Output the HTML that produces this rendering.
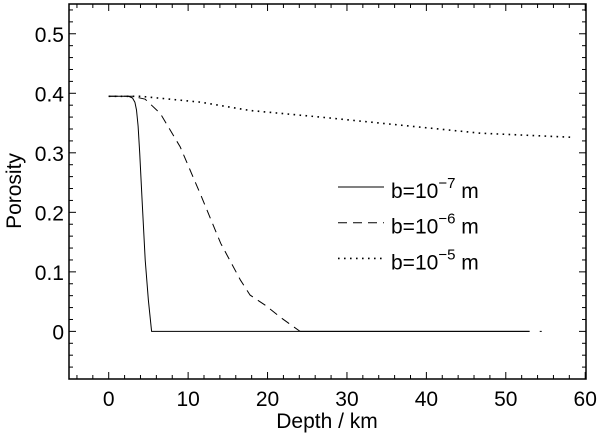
<!DOCTYPE html>
<html><head><meta charset="utf-8"><style>
html,body{margin:0;padding:0;background:#fff;}
svg text{font-family:"Liberation Sans",Helvetica,Arial,sans-serif;fill:#000;}
</style></head><body>
<svg id="chart" width="600" height="435" xmlns="http://www.w3.org/2000/svg">
<g id="axes"></g><g id="series"></g><g id="legend"></g>
</svg>
<script>
const xTicks=[0,10,20,30,40,50,60];
const yTicks=[0,0.1,0.2,0.3,0.4,0.5];
const yTickLabels=["0","0.1","0.2","0.3","0.4","0.5"];
const solidX=[0,2.5,3.0,3.3,3.5,3.7,3.9,4.2,4.6,5.0,5.4,53];
const solidY=[0.395,0.395,0.392,0.385,0.372,0.345,0.30,0.22,0.12,0.052,0,0];
const dashedX=[0,3,4.6,6.5,9,11.6,14.1,16.6,17.8,19.7,21.8,24.1,53];
const dashedY=[0.395,0.395,0.39,0.366,0.31,0.229,0.148,0.086,0.061,0.044,0.022,0,0];
const dottedX=[0,4,11.6,17.8,26.7,39.3,46.8,58.4];
const dottedY=[0.395,0.395,0.385,0.371,0.36,0.343,0.333,0.326];
const strayX=[54.4];
const strayY=[0];
const legendLabels=["7","6","5"];

const L=69,R=586,T=4,B=379, X0=-5,X1=60.1, Y0=-0.08,Y1=0.55;
const sx=v=>L+(v-X0)/(X1-X0)*(R-L);
const sy=v=>B-(v-Y0)/(Y1-Y0)*(B-T);
const NS='http://www.w3.org/2000/svg';
function mk(tag,attrs,parent){const e=document.createElementNS(NS,tag);for(const k in attrs)e.setAttribute(k,attrs[k]);parent.appendChild(e);return e;}
const axes=document.getElementById('axes');
const frame=mk('rect',{x:L,y:T,width:R-L,height:B-T,fill:'none',stroke:'#000','stroke-width':1.5},axes);


for(let v=-4;v<=60;v+=2){const x=sx(v);const major=Math.abs(v%10)<1e-9;const len=major?7:4;
 const t1=mk('line',{x1:x,x2:x,y1:B,y2:B-len,stroke:'#000','stroke-width':1},axes);
 
 
 const t2=mk('line',{x1:x,x2:x,y1:T,y2:T+len,stroke:'#000','stroke-width':1},axes);
 
 }
for(let i=-4;i<=27;i++){const v=i*0.02;const y=sy(v);const major=i%5===0;const len=major?7:4;
 const t1=mk('line',{x1:L,x2:L+len,y1:y,y2:y,stroke:'#000','stroke-width':1},axes);
 
 
 const t2=mk('line',{x1:R,x2:R-len,y1:y,y2:y,stroke:'#000','stroke-width':1},axes);
 
 }
xTicks.forEach(v=>{const t=mk('text',{x:sx(v),y:406,'text-anchor':'middle','font-size':21},axes);t.textContent=String(v);
 
 });
yTicks.forEach((v,i)=>{const t=mk('text',{x:64,y:sy(v)+8,'text-anchor':'end','font-size':21},axes);t.textContent=yTickLabels[i];
 
 });
const xt=mk('text',{x:327,y:428,'text-anchor':'middle','font-size':21},axes);xt.textContent='Depth / km';


const yt=mk('text',{x:0,y:0,'text-anchor':'middle','font-size':21,transform:'translate(21,191) rotate(-90)'},axes);yt.textContent='Porosity';


const ser=document.getElementById('series');
function pts(xs,ys){return xs.map((x,i)=>sx(x).toFixed(1)+','+sy(ys[i]).toFixed(1)).join(' ');}
const s1=mk('polyline',{points:pts(solidX,solidY),fill:'none',stroke:'#000','stroke-width':1,'stroke-linejoin':'round'},ser);


const s2=mk('polyline',{points:pts(dashedX.slice(0,12),dashedY.slice(0,12)),fill:'none',stroke:'#000','stroke-width':1,'stroke-dasharray':'9,6'},ser);


const s2b=mk('polyline',{points:pts(dashedX.slice(11),dashedY.slice(11)),fill:'none',stroke:'#000','stroke-width':1},ser);


strayX.forEach((x,i)=>{const d=mk('rect',{x:sx(x)-1,y:sy(strayY[i])-0.5,width:2,height:1,fill:'#000'},ser);
 
 });
const s3=mk('polyline',{points:pts(dottedX,dottedY),fill:'none',stroke:'#000','stroke-width':1.6,'stroke-dasharray':'1.6,4.4'},ser);


const leg=document.getElementById('legend');
const styles=[{},{'stroke-dasharray':'9,6'},{'stroke-dasharray':'1.6,4.4','stroke-width':1.6}];
legendLabels.forEach((e,i)=>{const y=187+i*35.7;
 const a=Object.assign({x1:338,x2:384,y1:y,y2:y,stroke:'#000','stroke-width':1},styles[i]);
 const ln=mk('line',a,leg);
 
 
 const t=mk('text',{x:391,y:y+11,'font-size':21},leg);
 
 
 t.appendChild(document.createTextNode('b=10'));
 const sp=mk('tspan',{dy:-10,'font-size':15},t);sp.textContent='\u2212'+e;
 const sp2=mk('tspan',{dy:10,'font-size':21},t);sp2.textContent=' m';});
</script>
</body></html>
